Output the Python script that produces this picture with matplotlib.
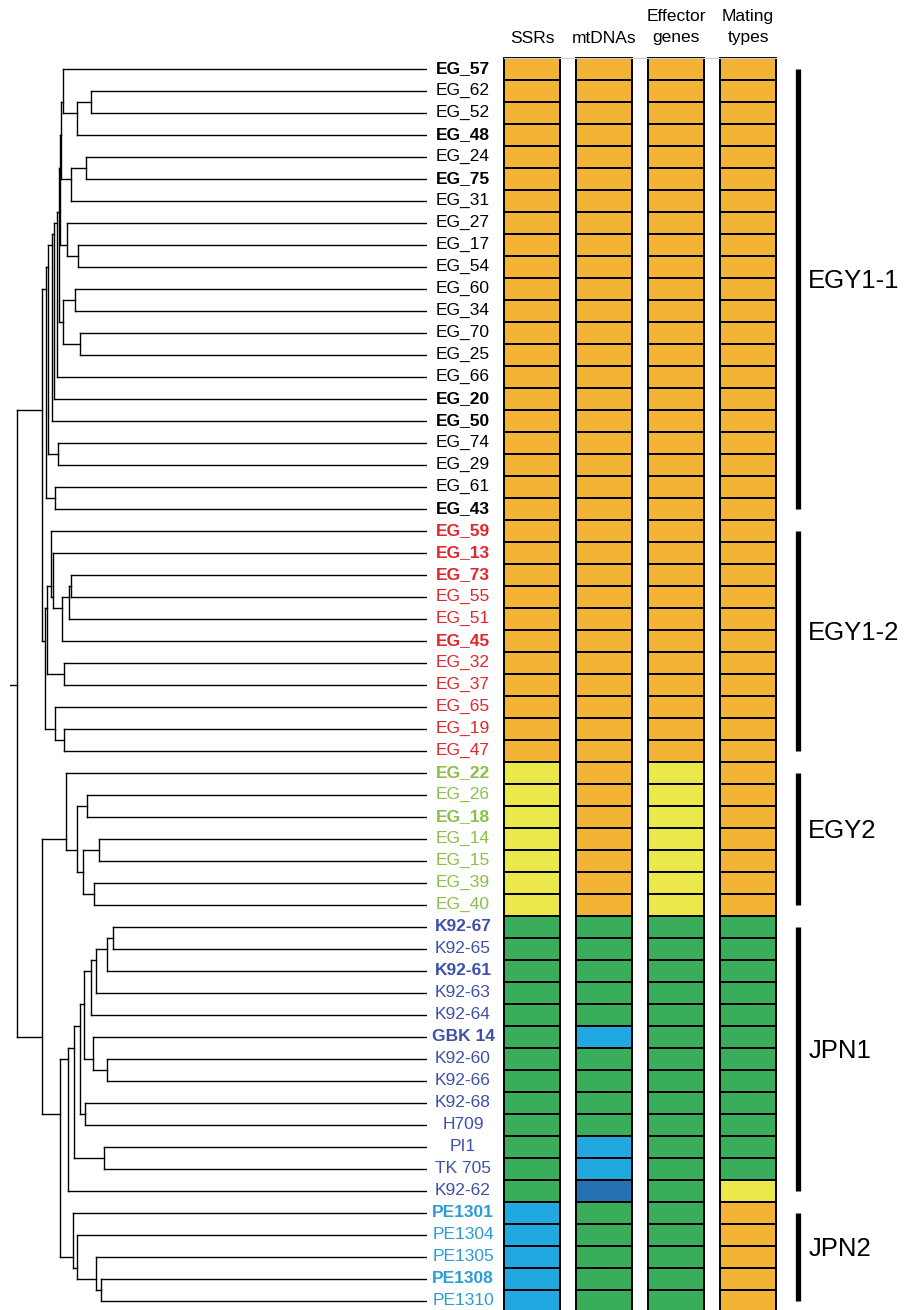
import matplotlib
matplotlib.use("Agg")
import matplotlib.pyplot as plt
from matplotlib.transforms import blended_transform_factory

plt.rcParams['font.family'] = ['Liberation Sans', 'DejaVu Sans']

# ---------------- data ----------------
egy11 = ["EG_57", "EG_62", "EG_52", "EG_48", "EG_24", "EG_75", "EG_31", "EG_27", "EG_17",
         "EG_54", "EG_60", "EG_34", "EG_70", "EG_25", "EG_66", "EG_20", "EG_50", "EG_74",
         "EG_29", "EG_61", "EG_43"]
egy12 = ["EG_59", "EG_13", "EG_73", "EG_55", "EG_51", "EG_45", "EG_32", "EG_37", "EG_65",
         "EG_19", "EG_47"]
egy2 = ["EG_22", "EG_26", "EG_18", "EG_14", "EG_15", "EG_39", "EG_40"]
jpn1 = ["K92-67", "K92-65", "K92-61", "K92-63", "K92-64", "GBK 14", "K92-60", "K92-66",
        "K92-68", "H709", "PI1", "TK 705", "K92-62"]
jpn2 = ["PE1301", "PE1304", "PE1305", "PE1308", "PE1310"]

group_names = ["EGY1-1", "EGY1-2", "EGY2", "JPN1", "JPN2"]
group_members = [egy11, egy12, egy2, jpn1, jpn2]
group_label_colors = ["#000000", "#E2262B", "#8CBF4A", "#3F51A6", "#2C9CD9"]

bold_isolates = ["EG_57", "EG_48", "EG_75", "EG_20", "EG_50", "EG_43", "EG_59", "EG_13",
                 "EG_73", "EG_45", "EG_22", "EG_18", "K92-67", "K92-61", "GBK 14",
                 "PE1301", "PE1308"]

columns = ["SSRs", "mtDNAs", "Effector\ngenes", "Mating\ntypes"]
# O = orange, Y = yellow, G = green, B = light blue, D = dark blue
ssr_codes = ("OOOOOOOOOOOOOOOOOOOOO" + "OOOOOOOOOOO" + "YYYYYYY" +
             "GGGGGGGGGGGGG" + "BBBBB")
mtdna_codes = ("OOOOOOOOOOOOOOOOOOOOO" + "OOOOOOOOOOO" + "OOOOOOO" +
               "GGGGGBGGGGBBD" + "GGGGG")
effector_codes = ("OOOOOOOOOOOOOOOOOOOOO" + "OOOOOOOOOOO" + "YYYYYYY" +
                  "GGGGGGGGGGGGG" + "GGGGG")
mating_codes = ("OOOOOOOOOOOOOOOOOOOOO" + "OOOOOOOOOOO" + "OOOOOOO" +
                "GGGGGGGGGGGGY" + "OOOOO")
code_colors = {"O": "#F3B335", "Y": "#EBE84B", "G": "#39AD5A", "B": "#21A8E0", "D": "#2671B4"}

# dendrogram: (node height, child, child); tips have height 0, root height 1
n_ab = (0.893, (0.888, "EG_57", (0.854, (0.820, "EG_62", "EG_52"), "EG_48")),
        (0.868, (0.832, "EG_24", "EG_75"), "EG_31"))
n_d = (0.878, "EG_27", (0.851, "EG_17", "EG_54"))
n_e = (0.888, (0.859, "EG_60", "EG_34"), (0.846, "EG_70", "EG_25"))
n_66 = (0.902, (0.898, (0.895, n_ab, n_d), n_e), "EG_66")
n_50 = (0.915, (0.910, n_66, "EG_20"), "EG_50")
clade_egy11 = (0.929, (0.924, n_50, (0.900, "EG_74", "EG_29")), (0.907, "EG_61", "EG_43"))

n_45 = (0.890, (0.873, (0.868, "EG_73", "EG_55"), "EG_51"), "EG_45")
n_59 = (0.917, "EG_59", (0.912, "EG_13", n_45))
clade_egy12 = (0.932, (0.927, n_59, (0.885, "EG_32", "EG_37")),
               (0.907, "EG_65", (0.885, "EG_19", "EG_47")))

clade_egy2 = (0.880, "EG_22", (0.854, (0.829, "EG_26", "EG_18"),
                               (0.839, (0.800, "EG_14", "EG_15"), (0.812, "EG_39", "EG_40"))))

n_64 = (0.820, (0.807, (0.780, (0.766, "K92-67", "K92-65"), "K92-61"), "K92-63"), "K92-64")
n_gbk = (0.815, "GBK 14", (0.780, "K92-60", "K92-66"))
n_h = (0.846, (0.837, n_64, n_gbk), (0.834, "K92-68", "H709"))
clade_jpn1 = (0.876, (0.861, n_h, (0.788, "PI1", "TK 705")), "K92-62")
clade_jpn2 = (0.863, "PE1301", (0.854, "PE1304", (0.807, "PE1305", (0.795, "PE1308", "PE1310"))))

tree = (1.0, (0.939, clade_egy11, clade_egy12),
        (0.939, clade_egy2, (0.895, clade_jpn1, clade_jpn2)))
root_edge = 0.017

# ---------------- layout ----------------
W, H = 911, 1310
isolates = [s for g in group_members for s in g]
n = len(isolates)
row_of = {s: i for i, s in enumerate(isolates)}
top_px, pitch = 57.5, 22.0
ax_bottom = 1 - (top_px + n * pitch) / H
ax_height = n * pitch / H

fig = plt.figure(figsize=(W / 100, H / 100), dpi=100)

# tree axes
ax_t = fig.add_axes([10 / W, ax_bottom, 417 / W, ax_height])
ax_t.set_xlim(1.0 + root_edge, 0.0)
ax_t.set_ylim(n - 0.5, -0.5)
ax_t.axis("off")
lw_tree = 1.0


def tips(node):
    if isinstance(node, str):
        return [node]
    return tips(node[1]) + tips(node[2])


def node_y(node):
    t = tips(node)
    return sum(row_of[s] for s in t) / len(t)


def draw(node):
    if isinstance(node, str):
        return
    h = node[0]
    kids = node[1:]
    ys = [node_y(k) for k in kids]
    ax_t.plot([h, h], [min(ys), max(ys)], color="black", lw=lw_tree, solid_capstyle="projecting")
    for k, y in zip(kids, ys):
        kh = 0.0 if isinstance(k, str) else k[0]
        ax_t.plot([h, kh], [y, y], color="black", lw=lw_tree, solid_capstyle="projecting")
        draw(k)


draw(tree)
ax_t.plot([1.0 + root_edge, 1.0], [node_y(tree)] * 2, color="black", lw=lw_tree)

# tip labels
lab_tr = blended_transform_factory(fig.transFigure, ax_t.transData)
for gi, members in enumerate(group_members):
    for s in members:
        ax_t.text(463 / W, row_of[s], s, transform=lab_tr, ha="center", va="center",
                  fontsize=12.5, color=group_label_colors[gi],
                  fontweight="bold" if s in bold_isolates else "normal")

# heatmap axes
cw = 56 / 72
ax_h = fig.add_axes([504 / W, ax_bottom, 272 / W, ax_height])
ax_h.set_xlim(0, 3 + cw)
ax_h.set_ylim(n - 0.5, -0.5)
for sp in ["left", "right", "bottom"]:
    ax_h.spines[sp].set_visible(False)
ax_h.spines["top"].set_color("#cccccc")
ax_h.spines["top"].set_linewidth(0.8)
ax_h.set_xticks([])
ax_h.set_yticks([])
for j, codes in enumerate([ssr_codes, mtdna_codes, effector_codes, mating_codes]):
    ax_h.barh(list(range(n)), [cw] * n, left=j, height=1.0,
              color=[code_colors[c] for c in codes], edgecolor="black", linewidth=1.4,
              clip_on=False, zorder=2)

hdr_tr = blended_transform_factory(ax_h.transData, fig.transFigure)
for j, name in enumerate(columns):
    lines = name.split("\n")
    if len(lines) == 1:
        ax_h.text(j + cw / 2, 1 - 43 / H, lines[0], transform=hdr_tr, ha="center",
                  va="baseline", fontsize=12.5)
    else:
        ax_h.text(j + cw / 2, 1 - 21 / H, lines[0], transform=hdr_tr, ha="center",
                  va="baseline", fontsize=12.5)
        ax_h.text(j + cw / 2, 1 - 42 / H, lines[1], transform=hdr_tr, ha="center",
                  va="baseline", fontsize=12.5)

# group bars
ax_g = fig.add_axes([790 / W, ax_bottom, 121 / W, ax_height])
ax_g.set_xlim(0, 1)
ax_g.set_ylim(n - 0.5, -0.5)
ax_g.axis("off")
for name, members in zip(group_names, group_members):
    r0, r1 = row_of[members[0]], row_of[members[-1]]
    ax_g.plot([0.066, 0.066], [r0, r1], color="black", lw=3.8, solid_capstyle="butt")
    ax_g.text(0.15, (r0 + r1) / 2 - 0.35, name, ha="left", va="center", fontsize=18.5)

fig.savefig("out.png", dpi=100)
